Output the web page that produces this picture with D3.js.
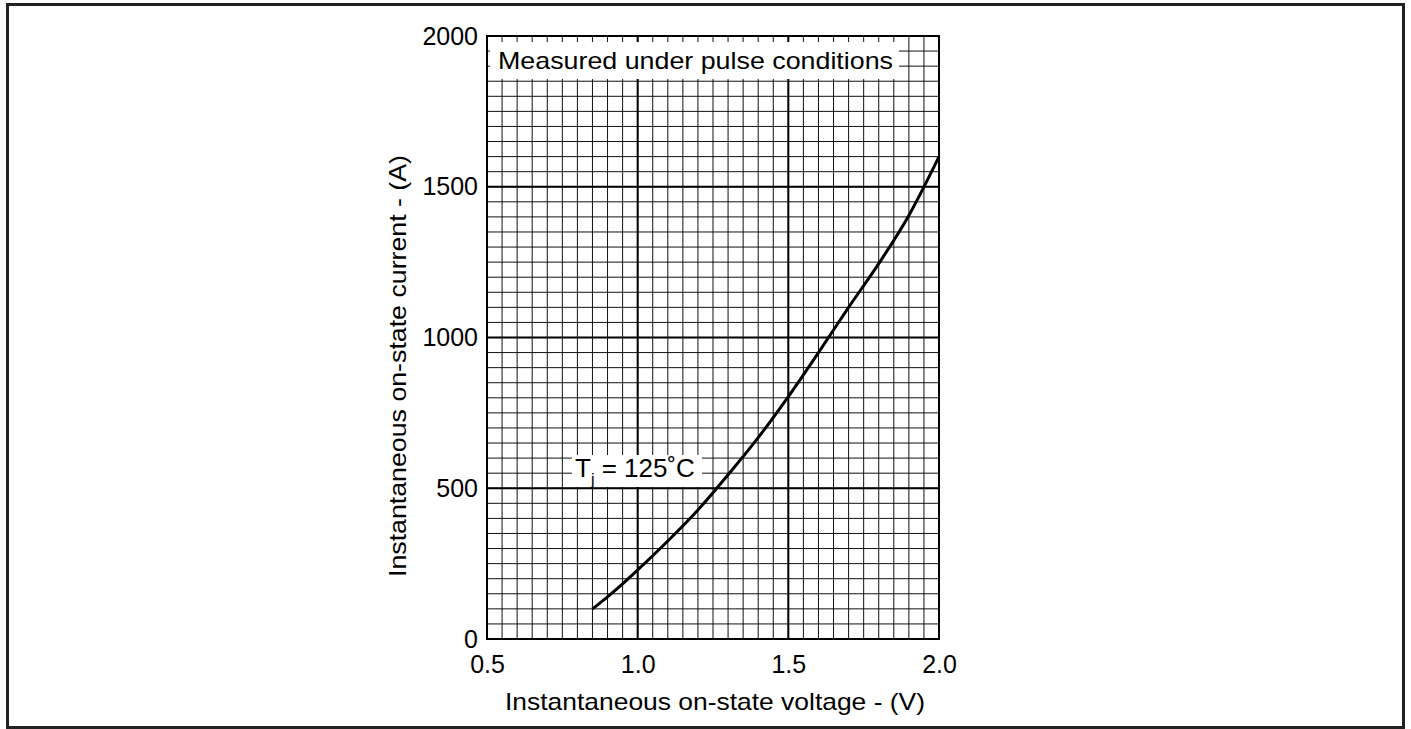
<!DOCTYPE html>
<html><head><meta charset="utf-8">
<script src="https://cdn.jsdelivr.net/npm/d3@7"></script>
<style>body{margin:0;background:#fff}svg{display:block}text{font-family:"Liberation Sans",Arial,sans-serif;fill:#000}</style>
</head><body>
<svg id="c" width="1411" height="729"></svg>
<script>
const voltage = [0.85, 0.9, 0.95, 1.0, 1.1, 1.2, 1.3, 1.4, 1.5, 1.6, 1.7, 1.8, 1.9, 2.0];
const current = [100, 140, 183, 229, 325, 428, 545, 668, 804, 950, 1100, 1245, 1405, 1600];
const xTicks = [0.5, 1.0, 1.5, 2.0];
const yTicks = [0, 500, 1000, 1500, 2000];
const xTitle = "Instantaneous on-state voltage - (V)";
const yTitle = "Instantaneous on-state current - (A)";
const note = "Measured under pulse conditions";

const svg = d3.select("#c");
svg.append("rect").attr("x",7.5).attr("y",4.5).attr("width",1396).attr("height",723)
  .attr("fill","none").attr("stroke","#222").attr("stroke-width",3);

const x = d3.scaleLinear().domain([0.5,2.0]).range([487,939]);
const y = d3.scaleLinear().domain([0,2000]).range([639,36]);

const g = svg.append("g");
const minorX = d3.range(0,31).map(i=>0.5+i*0.05);
const minorY = d3.range(0,41).map(i=>i*50);
g.selectAll("line.mx").data(minorX).enter().append("line")
  .attr("x1",d=>x(d)).attr("x2",d=>x(d)).attr("y1",y(2000)).attr("y2",y(0))
  .attr("stroke","#111").attr("stroke-width",1);
g.selectAll("line.my").data(minorY).enter().append("line")
  .attr("y1",d=>y(d)).attr("y2",d=>y(d)).attr("x1",x(0.5)).attr("x2",x(2.0))
  .attr("stroke","#111").attr("stroke-width",1);
g.selectAll("line.Mx").data(xTicks).enter().append("line")
  .attr("x1",d=>x(d)).attr("x2",d=>x(d)).attr("y1",y(2000)).attr("y2",y(0))
  .attr("stroke","#000").attr("stroke-width",2);
g.selectAll("line.My").data(yTicks).enter().append("line")
  .attr("y1",d=>y(d)).attr("y2",d=>y(d)).attr("x1",x(0.5)).attr("x2",x(2.0))
  .attr("stroke","#000").attr("stroke-width",2);
g.append("rect").attr("x",x(0.5)).attr("y",y(2000)).attr("width",x(2)-x(0.5)).attr("height",y(0)-y(2000))
  .attr("fill","none").attr("stroke","#000").attr("stroke-width",2);

// label boxes
svg.append("rect").attr("x",490).attr("y",42).attr("width",409).attr("height",37).attr("fill","#fff");
svg.append("text").attr("x",498).attr("y",69).attr("font-size",24)
  .attr("textLength",395).attr("lengthAdjust","spacingAndGlyphs").text(note);

svg.append("rect").attr("x",572).attr("y",455).attr("width",130).attr("height",32).attr("fill","#fff");
const tj = svg.append("text").attr("x",575).attr("y",477).attr("font-size",26);
tj.append("tspan").text("T");
tj.append("tspan").attr("font-size",16).attr("dy",8).text("j");
tj.append("tspan").attr("dy",-8).text(" = 125˚C");

// curve
const pts = voltage.map((v,i)=>[v,current[i]]);
svg.append("path").datum(pts)
  .attr("d", d3.line().x(d=>x(d[0])).y(d=>y(d[1])).curve(d3.curveMonotoneX))
  .attr("fill","none").attr("stroke","#000").attr("stroke-width",3);

// axes labels
const xa = svg.append("g").attr("transform",`translate(0,${y(0)})`)
  .call(d3.axisBottom(x).tickValues(xTicks).tickFormat(d3.format(".1f")).tickSize(0).tickPadding(16));
xa.select(".domain").remove();
xa.selectAll("text").attr("font-size",25).attr("font-family","Liberation Sans, Arial, sans-serif");
const ya = svg.append("g").attr("transform",`translate(${x(0.5)},0)`)
  .call(d3.axisLeft(y).tickValues(yTicks).tickFormat(d3.format("d")).tickSize(0).tickPadding(9));
ya.select(".domain").remove();
ya.selectAll("text").attr("font-size",25).attr("font-family","Liberation Sans, Arial, sans-serif");

svg.append("text").attr("x",715).attr("y",710).attr("text-anchor","middle").attr("font-size",24)
  .attr("textLength",420).attr("lengthAdjust","spacingAndGlyphs").text(xTitle);
svg.append("text").attr("transform","translate(406,366) rotate(-90)").attr("text-anchor","middle").attr("font-size",24)
  .attr("textLength",422).attr("lengthAdjust","spacingAndGlyphs").text(yTitle);
</script>
</body></html>
